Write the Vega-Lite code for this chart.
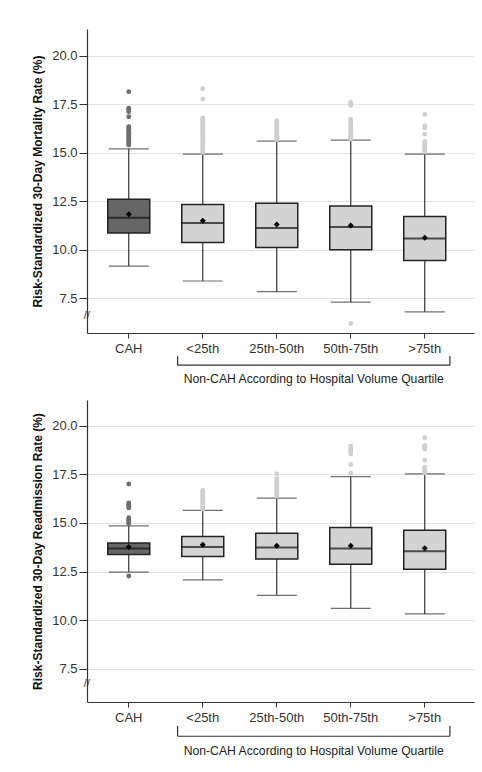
{
  "$schema": "https://vega.github.io/schema/vega-lite/v6.json",
  "padding": {"top": 29, "left": 31, "right": 9, "bottom": 10},
  "background": "white",
  "config": {
    "font": "Liberation Sans",
    "view": {"stroke": null},
    "axis": {"labelFont": "Liberation Sans", "titleFont": "Liberation Sans", "labelColor": "#333", "domainColor": "#333", "tickColor": "#333", "labelFontSize": 13}
  },
  "datasets": {
    "stats": [
      {"metric": "m", "group": "CAH", "lower": 9.16, "q1": 10.87, "median": 11.65, "q3": 12.6, "upper": 15.2, "mean": 11.83},
      {"metric": "m", "group": "<25th", "lower": 8.39, "q1": 10.38, "median": 11.38, "q3": 12.33, "upper": 14.93, "mean": 11.5},
      {"metric": "m", "group": "25th-50th", "lower": 7.84, "q1": 10.12, "median": 11.12, "q3": 12.4, "upper": 15.6, "mean": 11.3},
      {"metric": "m", "group": "50th-75th", "lower": 7.3, "q1": 10.0, "median": 11.17, "q3": 12.26, "upper": 15.65, "mean": 11.25},
      {"metric": "m", "group": ">75th", "lower": 6.8, "q1": 9.45, "median": 10.58, "q3": 11.72, "upper": 14.93, "mean": 10.62},
      {"metric": "r", "group": "CAH", "lower": 12.47, "q1": 13.38, "median": 13.68, "q3": 13.97, "upper": 14.85, "mean": 13.76},
      {"metric": "r", "group": "<25th", "lower": 12.07, "q1": 13.27, "median": 13.76, "q3": 14.3, "upper": 15.64, "mean": 13.88},
      {"metric": "r", "group": "25th-50th", "lower": 11.27, "q1": 13.14, "median": 13.73, "q3": 14.47, "upper": 16.27, "mean": 13.83},
      {"metric": "r", "group": "50th-75th", "lower": 10.6, "q1": 12.88, "median": 13.68, "q3": 14.76, "upper": 17.38, "mean": 13.83},
      {"metric": "r", "group": ">75th", "lower": 10.32, "q1": 12.62, "median": 13.54, "q3": 14.62, "upper": 17.52, "mean": 13.69}
    ],
    "outliers": [
      {"metric": "m", "group": "CAH", "value": 18.15}, {"metric": "m", "group": "CAH", "value": 17.3}, {"metric": "m", "group": "CAH", "value": 17.22}, {"metric": "m", "group": "CAH", "value": 17.12}, {"metric": "m", "group": "CAH", "value": 16.86}, {"metric": "m", "group": "CAH", "value": 16.35}, {"metric": "m", "group": "CAH", "value": 16.27}, {"metric": "m", "group": "CAH", "value": 16.18}, {"metric": "m", "group": "CAH", "value": 16.1}, {"metric": "m", "group": "CAH", "value": 16.0}, {"metric": "m", "group": "CAH", "value": 15.92}, {"metric": "m", "group": "CAH", "value": 15.83}, {"metric": "m", "group": "CAH", "value": 15.74}, {"metric": "m", "group": "CAH", "value": 15.65}, {"metric": "m", "group": "CAH", "value": 15.56}, {"metric": "m", "group": "CAH", "value": 15.48}, {"metric": "m", "group": "CAH", "value": 15.4},
      {"metric": "m", "group": "<25th", "value": 18.3}, {"metric": "m", "group": "<25th", "value": 17.77}, {"metric": "m", "group": "<25th", "value": 16.8}, {"metric": "m", "group": "<25th", "value": 16.72}, {"metric": "m", "group": "<25th", "value": 16.64}, {"metric": "m", "group": "<25th", "value": 16.55}, {"metric": "m", "group": "<25th", "value": 16.47}, {"metric": "m", "group": "<25th", "value": 16.38}, {"metric": "m", "group": "<25th", "value": 16.3}, {"metric": "m", "group": "<25th", "value": 16.2}, {"metric": "m", "group": "<25th", "value": 16.1}, {"metric": "m", "group": "<25th", "value": 16.0}, {"metric": "m", "group": "<25th", "value": 15.9}, {"metric": "m", "group": "<25th", "value": 15.8}, {"metric": "m", "group": "<25th", "value": 15.7}, {"metric": "m", "group": "<25th", "value": 15.6}, {"metric": "m", "group": "<25th", "value": 15.5}, {"metric": "m", "group": "<25th", "value": 15.4}, {"metric": "m", "group": "<25th", "value": 15.3}, {"metric": "m", "group": "<25th", "value": 15.2}, {"metric": "m", "group": "<25th", "value": 15.1}, {"metric": "m", "group": "<25th", "value": 15.02},
      {"metric": "m", "group": "25th-50th", "value": 16.65}, {"metric": "m", "group": "25th-50th", "value": 16.55}, {"metric": "m", "group": "25th-50th", "value": 16.45}, {"metric": "m", "group": "25th-50th", "value": 16.35}, {"metric": "m", "group": "25th-50th", "value": 16.25}, {"metric": "m", "group": "25th-50th", "value": 16.15}, {"metric": "m", "group": "25th-50th", "value": 16.05}, {"metric": "m", "group": "25th-50th", "value": 15.95}, {"metric": "m", "group": "25th-50th", "value": 15.85}, {"metric": "m", "group": "25th-50th", "value": 15.75}, {"metric": "m", "group": "25th-50th", "value": 15.68},
      {"metric": "m", "group": "50th-75th", "value": 17.6}, {"metric": "m", "group": "50th-75th", "value": 17.52}, {"metric": "m", "group": "50th-75th", "value": 17.45}, {"metric": "m", "group": "50th-75th", "value": 16.72}, {"metric": "m", "group": "50th-75th", "value": 16.6}, {"metric": "m", "group": "50th-75th", "value": 16.5}, {"metric": "m", "group": "50th-75th", "value": 16.4}, {"metric": "m", "group": "50th-75th", "value": 16.3}, {"metric": "m", "group": "50th-75th", "value": 16.2}, {"metric": "m", "group": "50th-75th", "value": 16.1}, {"metric": "m", "group": "50th-75th", "value": 16.0}, {"metric": "m", "group": "50th-75th", "value": 15.9}, {"metric": "m", "group": "50th-75th", "value": 15.8}, {"metric": "m", "group": "50th-75th", "value": 15.72}, {"metric": "m", "group": "50th-75th", "value": 6.2},
      {"metric": "m", "group": ">75th", "value": 16.98}, {"metric": "m", "group": ">75th", "value": 16.38}, {"metric": "m", "group": ">75th", "value": 16.28}, {"metric": "m", "group": ">75th", "value": 15.96}, {"metric": "m", "group": ">75th", "value": 15.58}, {"metric": "m", "group": ">75th", "value": 15.5}, {"metric": "m", "group": ">75th", "value": 15.42}, {"metric": "m", "group": ">75th", "value": 15.35}, {"metric": "m", "group": ">75th", "value": 15.25}, {"metric": "m", "group": ">75th", "value": 15.15}, {"metric": "m", "group": ">75th", "value": 15.05},
      {"metric": "r", "group": "CAH", "value": 17.0}, {"metric": "r", "group": "CAH", "value": 16.02}, {"metric": "r", "group": "CAH", "value": 15.94}, {"metric": "r", "group": "CAH", "value": 15.86}, {"metric": "r", "group": "CAH", "value": 15.78}, {"metric": "r", "group": "CAH", "value": 15.27}, {"metric": "r", "group": "CAH", "value": 15.2}, {"metric": "r", "group": "CAH", "value": 15.12}, {"metric": "r", "group": "CAH", "value": 15.04}, {"metric": "r", "group": "CAH", "value": 14.97}, {"metric": "r", "group": "CAH", "value": 12.27},
      {"metric": "r", "group": "<25th", "value": 16.67}, {"metric": "r", "group": "<25th", "value": 16.58}, {"metric": "r", "group": "<25th", "value": 16.5}, {"metric": "r", "group": "<25th", "value": 16.42}, {"metric": "r", "group": "<25th", "value": 16.34}, {"metric": "r", "group": "<25th", "value": 16.26}, {"metric": "r", "group": "<25th", "value": 16.18}, {"metric": "r", "group": "<25th", "value": 16.1}, {"metric": "r", "group": "<25th", "value": 16.02}, {"metric": "r", "group": "<25th", "value": 15.94}, {"metric": "r", "group": "<25th", "value": 15.86}, {"metric": "r", "group": "<25th", "value": 15.78}, {"metric": "r", "group": "<25th", "value": 15.72},
      {"metric": "r", "group": "25th-50th", "value": 17.52}, {"metric": "r", "group": "25th-50th", "value": 17.27}, {"metric": "r", "group": "25th-50th", "value": 17.18}, {"metric": "r", "group": "25th-50th", "value": 17.1}, {"metric": "r", "group": "25th-50th", "value": 17.02}, {"metric": "r", "group": "25th-50th", "value": 16.94}, {"metric": "r", "group": "25th-50th", "value": 16.86}, {"metric": "r", "group": "25th-50th", "value": 16.78}, {"metric": "r", "group": "25th-50th", "value": 16.7}, {"metric": "r", "group": "25th-50th", "value": 16.62}, {"metric": "r", "group": "25th-50th", "value": 16.54}, {"metric": "r", "group": "25th-50th", "value": 16.46}, {"metric": "r", "group": "25th-50th", "value": 16.38},
      {"metric": "r", "group": "50th-75th", "value": 18.95}, {"metric": "r", "group": "50th-75th", "value": 18.85}, {"metric": "r", "group": "50th-75th", "value": 18.75}, {"metric": "r", "group": "50th-75th", "value": 18.65}, {"metric": "r", "group": "50th-75th", "value": 18.55}, {"metric": "r", "group": "50th-75th", "value": 18.0}, {"metric": "r", "group": "50th-75th", "value": 17.56},
      {"metric": "r", "group": ">75th", "value": 19.38}, {"metric": "r", "group": ">75th", "value": 18.97}, {"metric": "r", "group": ">75th", "value": 18.88}, {"metric": "r", "group": ">75th", "value": 18.8}, {"metric": "r", "group": ">75th", "value": 18.22}, {"metric": "r", "group": ">75th", "value": 17.86}, {"metric": "r", "group": ">75th", "value": 17.76}, {"metric": "r", "group": ">75th", "value": 17.66}, {"metric": "r", "group": ">75th", "value": 17.57}
    ],
    "labels": [{"label": "Non-CAH According to Hospital Volume Quartile"}]
  },
  "spacing": 67,
  "bounds": "flush",
  "vconcat": [
    {
      "width": 387,
      "height": 304,
      "data": {"name": "stats"},
      "transform": [{"filter": "datum.metric === 'm'"}],
      "encoding": {
        "x": {"field": "group", "type": "nominal", "sort": null,
          "scale": {"type": "band", "domain": ["CAH", "<25th", "25th-50th", "50th-75th", ">75th"], "paddingInner": 0, "paddingOuter": 0.115, "align": 0.28},
          "axis": {"title": null, "labelAngle": 0, "grid": false, "tickSize": 5, "labelPadding": 4, "domainWidth": 1.2}}
      },
      "layer": [
        {"mark": {"type": "rule", "color": "#333", "strokeWidth": 1.2},
         "encoding": {
           "y": {"field": "lower", "type": "quantitative",
             "scale": {"domain": [5.71, 21.38], "nice": false, "zero": false},
             "axis": {"title": "Risk-Standardized 30-Day Mortality Rate (%)", "titleFontSize": 12, "titleFontWeight": "bold", "titleColor": "#111", "titlePadding": 7, "values": [7.5, 10, 12.5, 15, 17.5, 20], "format": ".1f", "tickSize": 8, "labelPadding": 2, "gridColor": "#e2e2e2", "domainWidth": 1.2}},
           "y2": {"field": "upper"}}},
        {"mark": {"type": "tick", "color": "#333", "size": 40, "thickness": 1.2}, "encoding": {"y": {"field": "upper", "type": "quantitative"}}},
        {"mark": {"type": "tick", "color": "#333", "size": 40, "thickness": 1.2}, "encoding": {"y": {"field": "lower", "type": "quantitative"}}},
        {"mark": {"type": "bar", "size": 42, "stroke": "#222", "strokeWidth": 1.5},
         "encoding": {"y": {"field": "q1", "type": "quantitative"}, "y2": {"field": "q3"},
           "fill": {"condition": {"test": "datum.group === 'CAH'", "value": "#666666"}, "value": "#d3d3d3"}}},
        {"mark": {"type": "tick", "color": "#111", "size": 42, "thickness": 2}, "encoding": {"y": {"field": "median", "type": "quantitative"}}},
        {"mark": {"type": "point", "shape": "diamond", "filled": true, "color": "#000", "size": 36, "opacity": 1}, "encoding": {"y": {"field": "mean", "type": "quantitative"}}},
        {"data": {"name": "outliers"}, "transform": [{"filter": "datum.metric === 'm'"}],
         "mark": {"type": "circle", "size": 24, "opacity": 1},
         "encoding": {"y": {"field": "value", "type": "quantitative"},
           "color": {"condition": {"test": "datum.group === 'CAH'", "value": "#6e6e6e"}, "value": "#cfcfcf"}}},
        {"data": {"name": "labels"}, "mark": {"type": "rule", "color": "#333", "strokeWidth": 1.2},
         "encoding": {"x": {"datum": "<25th", "type": "nominal", "bandPosition": 0.16}, "x2": {"datum": ">75th", "bandPosition": 0.84}, "y": {"datum": 4.05, "type": "quantitative"}}},
        {"data": {"name": "labels"}, "mark": {"type": "rule", "color": "#333", "strokeWidth": 1.2},
         "encoding": {"x": {"datum": "<25th", "type": "nominal", "bandPosition": 0.16}, "y": {"datum": 4.05, "type": "quantitative"}, "y2": {"datum": 4.52}}},
        {"data": {"name": "labels"}, "mark": {"type": "rule", "color": "#333", "strokeWidth": 1.2},
         "encoding": {"x": {"datum": ">75th", "type": "nominal", "bandPosition": 0.84}, "y": {"datum": 4.05, "type": "quantitative"}, "y2": {"datum": 4.52}}},
        {"data": {"name": "labels"}, "mark": {"type": "text", "fontSize": 12.2, "color": "#222", "baseline": "middle", "align": "center"},
         "encoding": {"text": {"field": "label"}, "x": {"datum": "50th-75th", "type": "nominal", "bandPosition": 0}, "y": {"datum": 3.32, "type": "quantitative"}}},
        {"data": {"name": "labels"}, "mark": {"type": "text", "text": "//", "fontSize": 11, "color": "#333", "dx": -5, "baseline": "middle", "align": "center"},
         "encoding": {"x": {"datum": "CAH", "type": "nominal", "bandPosition": 0}, "y": {"datum": 6.6, "type": "quantitative"}}}
      ]
    },
    {
      "width": 387,
      "height": 302,
      "data": {"name": "stats"},
      "transform": [{"filter": "datum.metric === 'r'"}],
      "encoding": {
        "x": {"field": "group", "type": "nominal", "sort": null,
          "scale": {"type": "band", "domain": ["CAH", "<25th", "25th-50th", "50th-75th", ">75th"], "paddingInner": 0, "paddingOuter": 0.115, "align": 0.28},
          "axis": {"title": null, "labelAngle": 0, "grid": false, "tickSize": 5, "labelPadding": 4, "domainWidth": 1.2}}
      },
      "layer": [
        {"mark": {"type": "rule", "color": "#333", "strokeWidth": 1.2},
         "encoding": {
           "y": {"field": "lower", "type": "quantitative",
             "scale": {"domain": [5.79, 21.32], "nice": false, "zero": false},
             "axis": {"title": "Risk-Standardized 30-Day Readmission Rate (%)", "titleFontSize": 12, "titleFontWeight": "bold", "titleColor": "#111", "titlePadding": 7, "values": [7.5, 10, 12.5, 15, 17.5, 20], "format": ".1f", "tickSize": 8, "labelPadding": 2, "gridColor": "#e2e2e2", "domainWidth": 1.2}},
           "y2": {"field": "upper"}}},
        {"mark": {"type": "tick", "color": "#333", "size": 40, "thickness": 1.2}, "encoding": {"y": {"field": "upper", "type": "quantitative"}}},
        {"mark": {"type": "tick", "color": "#333", "size": 40, "thickness": 1.2}, "encoding": {"y": {"field": "lower", "type": "quantitative"}}},
        {"mark": {"type": "bar", "size": 42, "stroke": "#222", "strokeWidth": 1.5},
         "encoding": {"y": {"field": "q1", "type": "quantitative"}, "y2": {"field": "q3"},
           "fill": {"condition": {"test": "datum.group === 'CAH'", "value": "#666666"}, "value": "#d3d3d3"}}},
        {"mark": {"type": "tick", "color": "#111", "size": 42, "thickness": 2}, "encoding": {"y": {"field": "median", "type": "quantitative"}}},
        {"mark": {"type": "point", "shape": "diamond", "filled": true, "color": "#000", "size": 36, "opacity": 1}, "encoding": {"y": {"field": "mean", "type": "quantitative"}}},
        {"data": {"name": "outliers"}, "transform": [{"filter": "datum.metric === 'r'"}],
         "mark": {"type": "circle", "size": 24, "opacity": 1},
         "encoding": {"y": {"field": "value", "type": "quantitative"},
           "color": {"condition": {"test": "datum.group === 'CAH'", "value": "#6e6e6e"}, "value": "#cfcfcf"}}},
        {"data": {"name": "labels"}, "mark": {"type": "rule", "color": "#333", "strokeWidth": 1.2},
         "encoding": {"x": {"datum": "<25th", "type": "nominal", "bandPosition": 0.16}, "x2": {"datum": ">75th", "bandPosition": 0.84}, "y": {"datum": 4.03, "type": "quantitative"}}},
        {"data": {"name": "labels"}, "mark": {"type": "rule", "color": "#333", "strokeWidth": 1.2},
         "encoding": {"x": {"datum": "<25th", "type": "nominal", "bandPosition": 0.16}, "y": {"datum": 4.03, "type": "quantitative"}, "y2": {"datum": 4.56}}},
        {"data": {"name": "labels"}, "mark": {"type": "rule", "color": "#333", "strokeWidth": 1.2},
         "encoding": {"x": {"datum": ">75th", "type": "nominal", "bandPosition": 0.84}, "y": {"datum": 4.03, "type": "quantitative"}, "y2": {"datum": 4.56}}},
        {"data": {"name": "labels"}, "mark": {"type": "text", "fontSize": 12.2, "color": "#222", "baseline": "middle", "align": "center"},
         "encoding": {"text": {"field": "label"}, "x": {"datum": "50th-75th", "type": "nominal", "bandPosition": 0}, "y": {"datum": 3.29, "type": "quantitative"}}},
        {"data": {"name": "labels"}, "mark": {"type": "text", "text": "//", "fontSize": 11, "color": "#333", "dx": -5, "baseline": "middle", "align": "center"},
         "encoding": {"x": {"datum": "CAH", "type": "nominal", "bandPosition": 0}, "y": {"datum": 6.7, "type": "quantitative"}}}
      ]
    }
  ]
}
